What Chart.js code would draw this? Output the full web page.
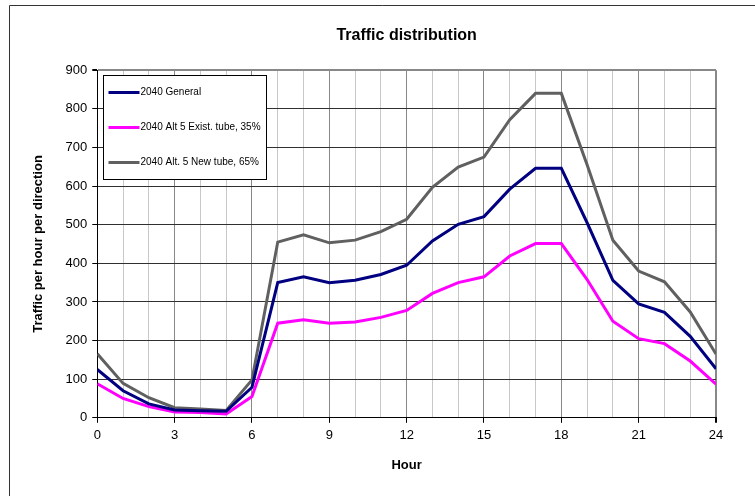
<!DOCTYPE html>
<html>
<head>
<meta charset="utf-8">
<script src="https://cdn.jsdelivr.net/npm/chart.js@4"></script>
<style>
  html, body { margin: 0; padding: 0; background: #fff; }
  #wrap { width: 755px; height: 496px; position: relative; }
</style>
</head>
<body>
<div id="wrap"><canvas id="trafficChart"></canvas></div>
<script>
// Ore del giorno e traffico per direzione
const hours = [0, 1, 2, 3, 4, 5, 6, 7, 8, 9, 10, 11, 12, 13, 14, 15, 16, 17, 18, 19, 20, 21, 22, 23, 24];
const general = [125, 70, 36, 20, 18, 17, 79, 350, 365, 350, 356, 371, 395, 458, 501, 521, 592, 646, 646, 505, 356, 295, 273, 211, 127];
const existTube = [88, 50, 29, 15, 14, 10, 55, 245, 254, 245, 248, 260, 278, 322, 350, 365, 419, 451, 451, 358, 250, 205, 192, 147, 87];
const newTube = [166, 89, 52, 26, 23, 19, 98, 455, 474, 453, 460, 482, 514, 597, 649, 675, 772, 840, 840, 655, 460, 380, 352, 274, 165];
const xTickLabels = [0, 3, 6, 9, 12, 15, 18, 21, 24];
const seriesNames = ['2040 General', '2040 Alt 5 Exist. tube, 35%', '2040 Alt. 5 New tube, 65%'];

const FONT = "'Liberation Sans', Arial, sans-serif";

function points(values) {
    return hours.map((h, i) => ({ x: h, y: values[i] }));
}

// cornice esterna e legenda dentro l'area del grafico
const framePlugin = {
    id: 'frame',
    beforeDraw(chart) {
        const c = chart.ctx;
        c.save();
        c.strokeStyle = '#333';
        c.lineWidth = 1;
        c.beginPath();
        c.moveTo(9.5, 496);
        c.lineTo(9.5, 5.5);
        c.lineTo(755, 5.5);
        c.stroke();
        c.restore();
    },
    afterDraw(chart) {
        const c = chart.ctx;
        const a = chart.chartArea;
        const x = Math.round(a.left) + 6.5, y = Math.round(a.top) + 5.5, w = 163, h = 104;
        c.save();
        c.fillStyle = '#fff';
        c.fillRect(x, y, w, h);
        c.strokeStyle = '#000';
        c.lineWidth = 1;
        c.strokeRect(x, y, w, h);
        c.font = '10px ' + FONT;
        c.textBaseline = 'middle';
        chart.data.datasets.forEach((ds, i) => {
            const yy = y + 17 + i * 35;
            c.strokeStyle = ds.borderColor;
            c.lineWidth = 3;
            c.beginPath();
            c.moveTo(x + 5, yy);
            c.lineTo(x + 36, yy);
            c.stroke();
            c.fillStyle = '#000';
            c.fillText(ds.label, x + 37, yy);
        });
        c.restore();
    }
};

const ctx = document.getElementById('trafficChart').getContext('2d');
window.trafficChart = new Chart(ctx, {
    type: 'line',
    data: {
        datasets: [{
            label: seriesNames[0],
            data: points(general),
            borderColor: '#000080',
        }, {
            label: seriesNames[1],
            data: points(existTube),
            borderColor: '#ff00ff',
        }, {
            label: seriesNames[2],
            data: points(newTube),
            borderColor: '#606060',
        }]
    },
    options: {
        responsive: true,
        maintainAspectRatio: false,
        animation: false,
        layout: { padding: { top: 16, left: 31, right: 39, bottom: 23 } },
        elements: {
            line: { borderWidth: 3, tension: 0 },
            point: { radius: 0 }
        },
        plugins: {
            legend: { display: false },
            tooltip: { enabled: false },
            title: {
                display: true,
                fullSize: false,
                text: 'Traffic distribution',
                color: '#000',
                font: { family: FONT, size: 16, weight: 'bold' },
                padding: { top: 10, bottom: 25 }
            }
        },
        scales: {
            x: {
                type: 'linear',
                min: 0,
                max: 24,
                ticks: {
                    stepSize: 1,
                    autoSkip: false,
                    maxRotation: 0,
                    color: '#000',
                    padding: 5,
                    font: { family: FONT, size: 13 },
                    callback: (v) => xTickLabels.includes(v) ? String(v) : ''
                },
                grid: {
                    color: (c) => c.tick.value === 24 ? '#888' : (c.tick.value % 3 === 0 ? '#888' : '#c8c8c8'),
                    lineWidth: (c) => c.tick.value === 24 ? 2 : 1,
                    tickColor: (c) => c.tick.value % 3 === 0 ? '#000' : 'rgba(0,0,0,0)',
                    tickLength: 5
                },
                border: { color: '#000', width: 1 },
                title: {
                    display: true,
                    text: 'Hour',
                    color: '#000',
                    font: { family: FONT, size: 13, weight: 'bold' },
                    padding: { top: 9, bottom: 0 }
                }
            },
            y: {
                min: 0,
                max: 900,
                ticks: {
                    stepSize: 100,
                    color: '#000',
                    padding: 5,
                    font: { family: FONT, size: 13 }
                },
                grid: {
                    color: (c) => c.tick.value === 900 ? '#888' : '#303030',
                    lineWidth: (c) => c.tick.value === 900 ? 2 : 1,
                    tickColor: '#000',
                    tickLength: 5
                },
                border: { color: '#000', width: 1 },
                title: {
                    display: true,
                    text: 'Traffic per hour per direction',
                    color: '#000',
                    font: { family: FONT, size: 13, weight: 'bold' },
                    padding: { top: 0, bottom: 14 }
                }
            }
        }
    },
    plugins: [framePlugin]
});
</script>
</body>
</html>
